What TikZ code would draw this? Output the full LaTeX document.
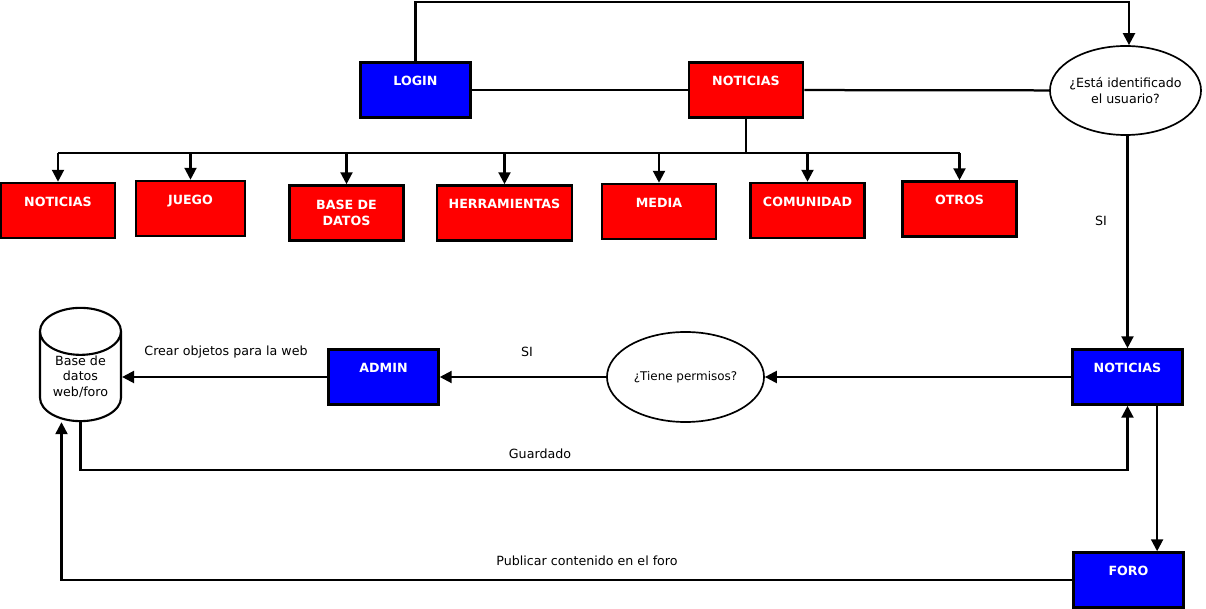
\documentclass[tikz,border=0pt]{standalone}
\usepackage{fontspec}
\setmainfont{DejaVu Sans}
\usetikzlibrary{shapes.geometric,arrows.meta}

\begin{document}
\begin{tikzpicture}[x=0.025cm,y=-0.025cm,
box/.style={draw,rectangle,line width=1.8pt,minimum width=2.85cm,minimum height=1.375cm,
    text=white,font=\fontsize{9}{11}\selectfont\bfseries,align=center},
high/.style={text height=.3cm,text depth=.5cm},
redbox/.style={box,fill=red},
bluebox/.style={box,fill=blue,minimum width=2.75cm,high},
choice/.style={draw,ellipse,line width=1.2pt,inner sep=0pt,font=\fontsize{9}{11}\selectfont,align=center},
tag/.style={font=\fontsize{9}{11}\selectfont},
link/.style={line width=1.6pt},
flow/.style={link,-{Triangle[length=8.5pt,width=8.5pt]}}]
\useasboundingbox (0,0) rectangle (1206,609);

% top row
\node (login) [bluebox] at (415.5,90) {LOGIN};
\node (nt) [redbox,high] at (746,90) {NOTICIAS};
\node (ident) [choice,inner xsep=-.12cm,minimum width=3.775cm,minimum height=2.225cm] at (1125.5,90.5)
    {¿Está identificado\\el usuario?};

% sections
\node (n1) [redbox,high] at (58,210.5) {NOTICIAS};
\node (juego) [redbox,high,minimum width=2.725cm] at (190.5,208.5) {JUEGO};
\node (bdd) [redbox] at (346.5,213) {BASE DE\\DATOS};
\node (herr) [redbox,high,minimum width=3.375cm] at (504.5,213) {HERRAMIENTAS};
\node (media) [redbox,high] at (659,211.5) {MEDIA};
\node (comu) [redbox,high] at (807.5,210.5) {COMUNIDAD};
\node (otros) [redbox,high] at (959.5,209) {OTROS};

% lower flow
\node (nb) [bluebox] at (1127.5,377) {NOTICIAS};
\node (permisos) [choice,minimum width=3.925cm,minimum height=2.25cm,font=\fontsize{8.5}{10}\selectfont]
    at (685.5,377) {¿Tiene permisos?};
\node (admin) [bluebox] at (383.5,377) {ADMIN};
\node (db) [draw,cylinder,shape border rotate=90,aspect=0.85,line width=1.5pt,anchor=shape center,
    minimum width=2.025cm,minimum height=2.725cm,inner sep=0pt,align=center,
    font=\fontsize{9}{11}\selectfont] at (80.5,364.5) {Base de\\datos\\web/foro};
\node (foro) [bluebox] at (1128.5,580) {FORO};

\node (si1) [tag] at (1101,221) {SI};
\node (si2) [tag] at (527,352) {SI};
\node (crear) [tag] at (226,352) {Crear objetos para la web};
\node (guardado) [tag] at (540,454) {Guardado};
\node (publicar) [tag] at (587,561) {Publicar contenido en el foro};

\coordinate (bus) at (746,153);
\coordinate (corner) at (1129,2);

\draw[link] (login) -- (nt);
\draw[link] (nt) -- (ident);
\draw[flow] (login.north) |- (corner) -- (corner |- ident.north);
\draw[link] (nt.south) -- (bus);
\draw[link] (n1.north |- bus) -- (otros.north |- bus);
\foreach \b in {n1,juego,bdd,herr,media,comu,otros}
    \draw[flow] (\b.north |- bus) -- (\b.north);

\draw[flow] (nb.north |- ident.south) -- (nb.north);
\draw[flow] (nb) -- (permisos);
\draw[flow] (permisos) -- (admin);
\draw[flow] (admin.west) -- (admin.west -| db.east);
\draw[flow] (db.south) |- ([yshift=-1.6cm]nb.south) -- (nb.south);
\draw[flow] ([xshift=.74cm]nb.south) -- ([xshift=.74cm]nb.south |- foro.north);
\draw[flow] (foro.west) -| ([xshift=-.475cm]db.south);
\end{tikzpicture}
\end{document}
